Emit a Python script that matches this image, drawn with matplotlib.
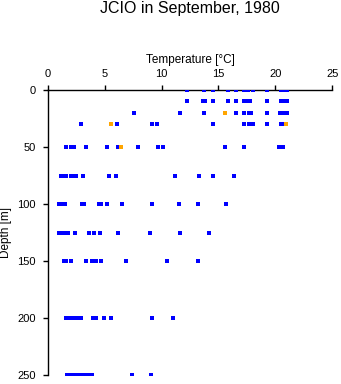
import matplotlib
matplotlib.use('Agg')
from matplotlib import pyplot as plt
import numpy as np

plt.rcParams['font.family'] = ['Liberation Sans', 'DejaVu Sans']

# temperature readings (degC) by depth (m)
depth = [0, 10, 20, 30, 50, 75, 100, 125, 150, 200, 250]
temp_blue = [
    [12.2, 13.7, 14.5, 15.8, 16.5, 17.2, 17.6, 18.0, 19.3, 20.5, 20.7, 20.9, 21.0],
    [12.2, 13.6, 13.8, 14.5, 15.8, 16.5, 17.2, 17.6, 17.8, 19.3, 20.5, 20.7, 20.9, 21.0],
    [7.6, 11.6, 13.7, 16.5, 17.2, 17.7, 17.9, 19.3, 20.4, 20.6, 20.8, 21.0],
    [2.9, 6.1, 9.2, 9.6, 14.5, 17.2, 17.7, 18.0, 19.3, 20.5, 20.7],
    [1.6, 2.0, 2.3, 3.4, 5.2, 6.2, 7.9, 9.7, 10.1, 15.6, 17.2, 20.3, 20.7],
    [1.2, 1.4, 1.6, 2.0, 2.3, 2.5, 3.1, 5.4, 6.0, 11.2, 13.3, 14.5, 16.4],
    [1.0, 1.2, 1.5, 3.0, 3.2, 4.5, 4.7, 5.2, 6.5, 9.2, 11.5, 13.2, 15.7],
    [1.0, 1.2, 1.5, 1.8, 2.4, 3.6, 4.1, 4.6, 6.2, 9.0, 11.6, 14.2],
    [1.4, 1.6, 2.0, 3.4, 3.9, 4.2, 4.7, 6.9, 10.5, 13.2],
    [1.6, 1.9, 2.1, 2.3, 2.5, 2.7, 2.9, 4.0, 4.2, 4.9, 5.6, 9.2, 11.0],
    [1.7, 2.0, 2.2, 2.5, 2.8, 3.1, 3.4, 3.6, 3.9, 7.4, 9.1],
]
orange_temp = [15.6, 5.6, 20.95, 6.4]
orange_depth = [20, 30, 30, 50]

fig = plt.figure(figsize=(3.41, 3.84), dpi=100)
ax = fig.add_axes([0.14, 0.0227, 0.8345, 0.7429])

for d, ts in zip(depth, temp_blue):
    ax.scatter(ts, [d] * len(ts), marker='s', s=5, c='#0000ff', linewidths=0, zorder=3)
ax.scatter(orange_temp, orange_depth, marker='s', s=5, c='#ffa500', linewidths=0, zorder=4)

ax.set_xlim(0, 25)
ax.set_ylim(250, 0)
ax.xaxis.tick_top()
ax.xaxis.set_label_position('top')
ax.set_xticks([0, 5, 10, 15, 20, 25])
ax.set_yticks([0, 50, 100, 150, 200, 250])
ax.spines['right'].set_visible(False)
ax.spines['bottom'].set_visible(False)
for sp in ('top', 'left'):
    ax.spines[sp].set_linewidth(1.0)
ax.tick_params(axis='both', direction='out', length=3.6, width=1, labelsize=8)
ax.tick_params(axis='x', pad=4.3)
ax.tick_params(axis='y', pad=4.8)
ax.set_xlabel('Temperature [\u00b0C]', fontsize=8.5, labelpad=4)
ax.set_ylabel('Depth [m]', fontsize=8.5, labelpad=4)
ax.patch.set_alpha(0)

fig.text(0.557, 0.977, 'JCIO in September, 1980', ha='center', va='center', fontsize=11.5)

fig.savefig('out.png', dpi=100)
